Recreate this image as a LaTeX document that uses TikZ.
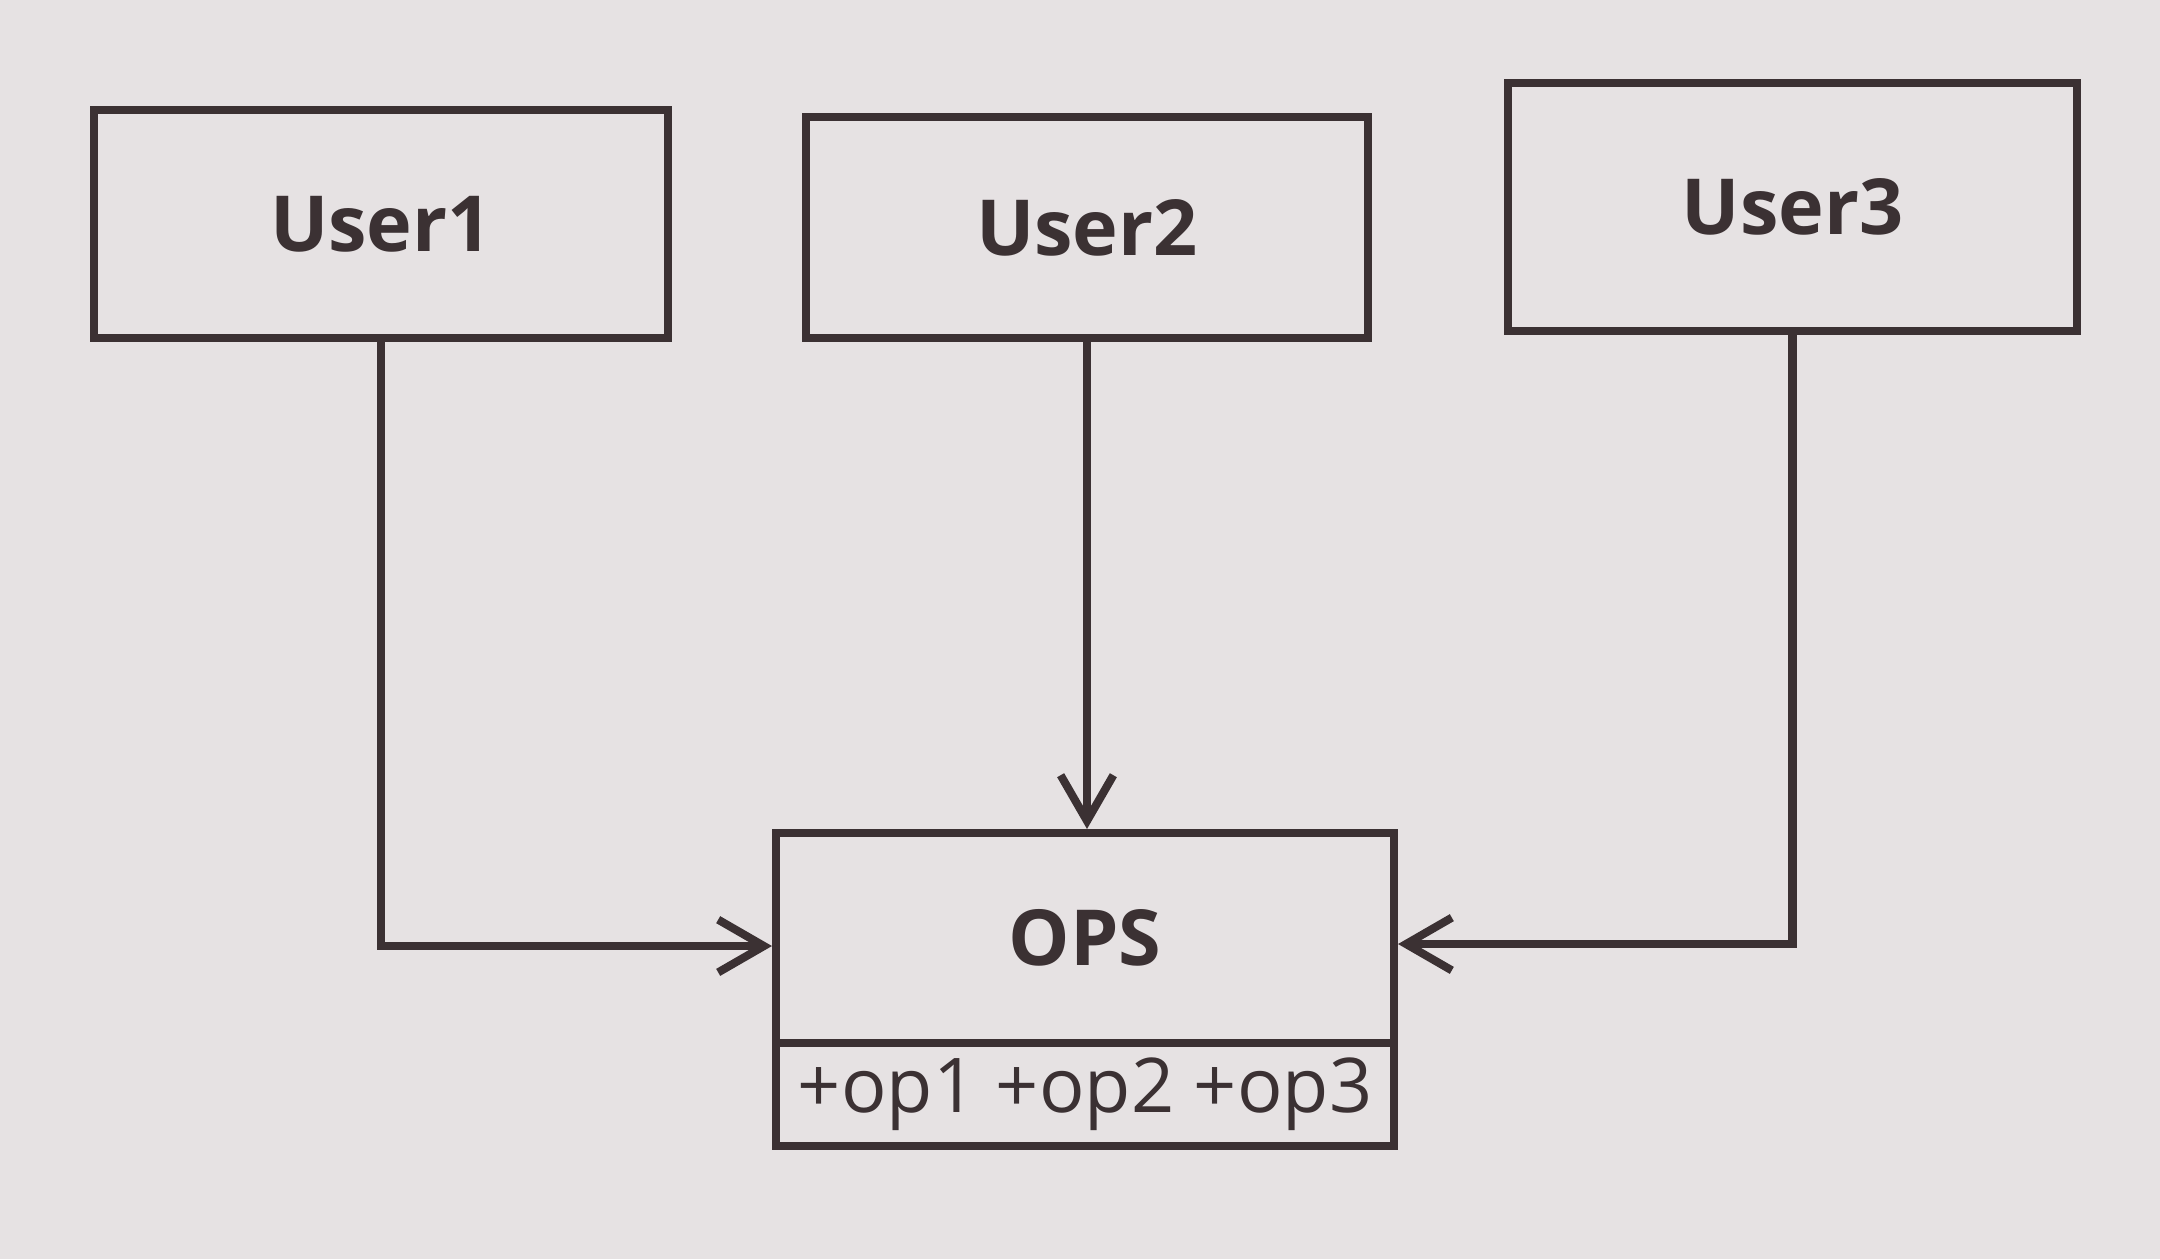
\documentclass[tikz,border=0pt]{standalone}
\usepackage{fontspec}
\setmainfont{Open Sans}
\usetikzlibrary{arrows.meta}
\definecolor{paper}{HTML}{E6E2E3}
\definecolor{ink}{HTML}{3B3133}
\begin{document}
\begin{tikzpicture}[x=0.1mm,y=-0.1mm,
  box/.style={draw=ink,line width=2.3pt,rectangle,inner sep=0pt,text=ink},
  conn/.style={draw=ink,line width=2.3pt,-{Straight Barb[length=13pt,width=15pt,line width=2.3pt]}},
  lbl/.style={font=\fontsize{22}{26}\selectfont\bfseries}]
\fill[paper] (0,0) rectangle (2160,1259);
\useasboundingbox (0,0) rectangle (2160,1259);
\node[box,lbl,minimum width=57.4mm,minimum height=22.8mm] (u1) at (381,224) {User1};
\node[box,lbl,minimum width=56.2mm,minimum height=22.1mm] (u2) at (1087,227.5) {User2};
\node[box,lbl,minimum width=56.9mm,minimum height=24.8mm] (u3) at (1792.5,207) {User3};
\node[box,lbl,minimum width=61.8mm,minimum height=21.0mm] (ops) at (1085,938) {OPS};
\node[box,font=\fontsize{21.5}{25}\selectfont,minimum width=61.8mm,minimum height=10.3mm] (opl) at (1085,1094.5) {+op1 +op2 +op3};
\draw[conn] (u1.south) -- (u1.south |- 0,946) -- (ops.west |- 0,946);
\draw[conn] (u2.south) -- (u2.south |- ops.north);
\draw[conn] (u3.south) -- (u3.south |- 0,944) -- (ops.east |- 0,944);
\end{tikzpicture}
\end{document}
